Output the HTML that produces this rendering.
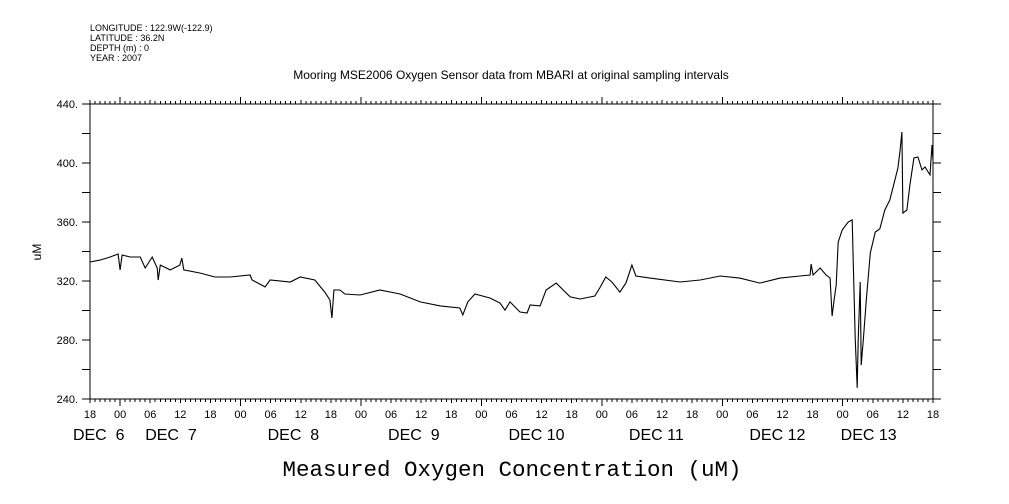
<!DOCTYPE html>
<html><head><meta charset="utf-8"><style>
body{margin:0;background:#fff;}
svg{display:block;font-family:"Liberation Sans",sans-serif;}
</style></head><body>
<svg id="chart" width="1009" height="504" viewBox="0 0 1009 504" xmlns="http://www.w3.org/2000/svg">
<g font-size="9" fill="#000">
<text x="90" y="31">LONGITUDE : 122.9W(-122.9)</text>
<text x="90" y="41">LATITUDE : 36.2N</text>
<text x="90" y="51">DEPTH (m) : 0</text>
<text x="90" y="61">YEAR : 2007</text>
</g>
<text x="511" y="79" font-size="12" text-anchor="middle">Mooring MSE2006 Oxygen Sensor data from MBARI at original sampling intervals</text>
<text x="0" y="0" font-size="12" text-anchor="middle" transform="translate(41,252) rotate(-90)">uM</text>
<text x="512" y="476" font-family="Liberation Mono, monospace" font-size="22.5" text-anchor="middle">Measured Oxygen Concentration (uM)</text>
<g id="axes"></g>
<g id="series"></g>
</svg>
<script>
const hours = [0,2,4,5.6,6,6.4,8,10,11,12.4,13.4,13.6,14,16,17.9,18.3,18.7,21.9,24.9,27.9,31.9,32.3,34.9,35.9,39.9,41.9,44.8,46.8,47.8,48.2,48.6,49.8,50.8,53.8,57.8,61.8,65.8,69.8,73.7,74.3,75.3,76.7,79.7,81.7,82.7,83.7,85.7,87.1,87.7,89.7,90.9,92.9,95.7,97.7,100.6,101.6,102.8,104,105.6,106.8,108,108.8,111.6,117.6,121.6,125.6,129.5,133.5,137.5,141.5,143.5,143.7,144.1,145.5,146.7,147.5,147.9,148.3,148.7,149.1,149.9,151.1,151.9,152.1,152.5,152.9,153.1,153.5,153.7,154.1,154.7,155.5,156.5,157.4,158.4,159.4,160.4,161,161.4,161.8,162,162.8,163.4,164.2,165,165.8,166.4,167.4,167.8,168];
const oxygen = [332.9,334.2,336.3,338.3,327.5,337.6,336.3,336.3,328.8,336.3,328.8,320.7,330.8,327.5,330.8,335.6,327.5,325.4,322.7,322.7,324.1,320.7,316,320.7,319.3,322.7,320.7,312.5,307.1,294.9,313.9,313.9,311.2,310.5,313.9,311.2,305.8,303.1,301.7,297,305.8,311.2,308.5,305.1,300.3,305.8,299,298.3,303.7,303.1,313.9,318.6,309.2,307.8,309.8,315.3,322.7,319.3,312.5,318.6,330.8,323.4,322,319.3,320.7,323.4,322,318.6,322,323.4,324.1,331.5,324.1,328.8,324.1,322,296.3,307.1,317.3,346.4,354.6,360,361.4,334.2,281.4,247.5,280,319.3,263,280,307.1,339,353.2,355.3,368.1,374.9,388.5,396.6,407.5,421,366.1,368.1,385.1,403.4,404.1,395.3,397.3,391.9,412.2,402];
const yTicks = [240,280,320,360,400,440];
const hourLabels = ["18","00","06","12","18","00","06","12","18","00","06","12","18","00","06","12","18","00","06","12","18","00","06","12","18","00","06","12","18"];
const dateLabels = ["DEC  6","DEC  7","DEC  8","DEC  9","DEC 10","DEC 11","DEC 12","DEC 13"];
const dateHours = [-3.4,11,35.4,59.4,83.4,107.4,131.4,149.6];

const NS="http://www.w3.org/2000/svg";
const L=90,R=933,T=104,B=399,H0=0,H1=168,V0=240,V1=440;
const xs=h=>L+(h-H0)/(H1-H0)*(R-L);
const ys=v=>B-(v-V0)/(V1-V0)*(B-T);
const axes=document.getElementById('axes');
function mk(tag,attrs,parent){const e=document.createElementNS(NS,tag);for(const k in attrs)e.setAttribute(k,attrs[k]);parent.appendChild(e);return e;}
let d=`M${L} ${T}H${R}V${B}H${L}Z`;
for(let h=0;h<=168;h++){const x=xs(h).toFixed(1);const len=(h%6===0)?(h%24===6?7:4):3;
 d+=`M${x} ${T}v${-len}M${x} ${B}v${len}`;}
for(let v=240;v<=440;v+=20){const y=ys(v).toFixed(1);d+=`M${L} ${y}h-8M${R} ${y}h8`;}
const frame=mk('path',{d:d,stroke:'#000','stroke-width':1,fill:'none','shape-rendering':'crispEdges'},axes);


yTicks.forEach(v=>{const t=mk('text',{x:78,y:ys(v)+4,'font-size':11,'text-anchor':'end'},axes);t.textContent=v+'.';
 
 });
hourLabels.forEach((s,i)=>{const t=mk('text',{x:xs(i*6),y:418,'font-size':11,'text-anchor':'middle'},axes);t.textContent=s;
 
 });
dateLabels.forEach((s,i)=>{const t=mk('text',{x:xs(dateHours[i]),y:440,'font-size':16},axes);t.setAttribute('style','white-space:pre');t.textContent=s;
 
 });
const pd=hours.map((h,i)=>(i?'L':'M')+xs(h).toFixed(1)+' '+ys(oxygen[i]).toFixed(1)).join('');
const line=mk('path',{d:pd,stroke:'#000','stroke-width':1.1,fill:'none'},document.getElementById('series'));


</script>
</body></html>
